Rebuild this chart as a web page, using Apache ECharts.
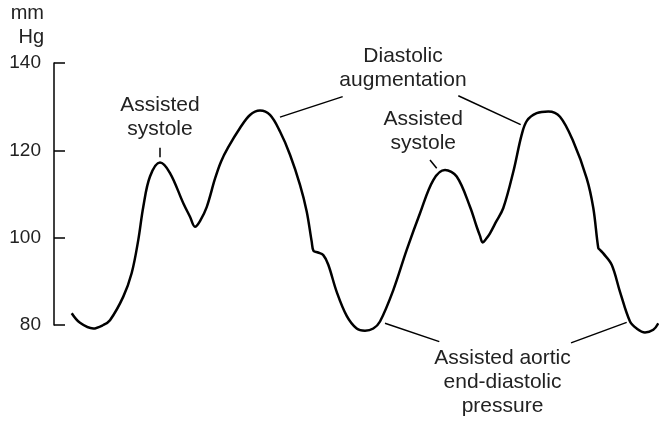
<!DOCTYPE html>
<html>
<head>
<meta charset="utf-8">
<title>Aortic pressure with balloon assist</title>
<script src="https://cdn.jsdelivr.net/npm/echarts@6/dist/echarts.min.js"></script>
<style>
html,body{margin:0;padding:0;background:#fff;}
#main{width:659px;height:421px;}
</style>
</head>
<body>
<div id="main"></div>
<script>
// time (arbitrary units) and aortic pressure (mm Hg)
var times = [17.7, 26, 39.3, 49.3, 56, 69.3, 77.7, 84.3, 89.3, 96, 106, 116, 129.3, 136, 141, 146, 152.7, 161, 167, 174,
	186, 196, 206, 216, 226, 236, 246, 252.7, 257.7, 259.5, 264, 269.3, 274.3, 282.7, 292.7, 302.7, 311, 319.3, 326, 339.3,
	352.7, 366, 379.3, 391, 402.7, 416, 422.7, 426, 428.7, 432, 436, 442, 449.3, 459.3, 467.7, 473, 482.7, 494.3, 506, 519.3,
	532.7, 539.3, 544.3, 546, 549.3, 557.7, 566, 576, 582.7, 591, 599.3, 604.3];
var pressure = [82.7, 80.5, 79.2, 80.0, 81.1, 86.5, 91.9, 99.5, 107.1, 114.0, 117.2, 114.8, 107.9, 104.8, 102.5, 103.8, 107.0, 113.5, 117.4, 120.6,
	125.1, 128.1, 129.1, 128.1, 124.3, 119.0, 112.1, 106.0, 99.1, 97.0, 96.6, 96.0, 93.8, 87.6, 82.1, 79.2, 78.7, 79.2, 80.8, 88.0,
	97.2, 105.6, 113.2, 115.5, 114.0, 107.1, 102.5, 100.4, 98.9, 99.7, 101.0, 103.6, 106.8, 115.1, 123.6, 126.8, 128.5, 128.9, 127.7, 122.0,
	113.6, 106.8, 97.6, 97.2, 96.4, 93.8, 87.6, 80.8, 79.2, 78.3, 78.9, 80.4];
var yTicks = [80, 100, 120, 140];

// annotations: text, anchor [time, mm Hg] of text centre
var noteTexts = ['Assisted\nsystole', 'Diastolic\naugmentation', 'Assisted\nsystole', 'Assisted aortic\nend-diastolic\npressure'];
var noteAt = [[106, 127.6], [349, 138.8], [369.3, 124.3], [448.5, 66.8]];
// leader lines: [t1, p1, t2, p2]
var leaders = [
	[106, 120.6, 106, 118.4],
	[226, 127.6, 288.7, 132.3],
	[404.3, 132.5, 466.7, 125.9],
	[376, 117.8, 382.7, 115.9],
	[331, 80.4, 385.3, 76.2],
	[572.7, 80.6, 517, 75.9]
];

var font = '"Liberation Sans", Arial, Helvetica, sans-serif';
var ink = '#222';
var myChart = echarts.init(document.getElementById('main'));

var points = [];
for (var i = 0; i < times.length; i++) {
	points.push([times[i], pressure[i]]);
}

var option = {
	animation: false,
	backgroundColor: '#fff',
	grid: {left: 54, right: 0, top: 63, bottom: 96},
	xAxis: {
		type: 'value',
		min: 0,
		max: 605,
		show: false
	},
	yAxis: {
		type: 'value',
		min: yTicks[0],
		max: yTicks[yTicks.length - 1],
		interval: yTicks[1] - yTicks[0],
		name: 'mm\nHg',
		nameLocation: 'end',
		nameGap: 14,
		nameTextStyle: {
			color: ink, fontSize: 20, fontFamily: font, lineHeight: 24,
			align: 'right', verticalAlign: 'bottom', padding: [0, 10, 0, 0]
		},
		axisLine: {show: true, lineStyle: {color: '#000', width: 1.5}},
		axisTick: {show: true, inside: true, length: 11, lineStyle: {color: '#000', width: 1.5}},
		axisLabel: {color: ink, fontSize: 19, fontFamily: font, margin: 13},
		splitLine: {show: false}
	},
	series: [{
		type: 'line',
		data: points,
		smooth: 0.35,
		showSymbol: false,
		clip: false,
		lineStyle: {color: '#000', width: 2.5}
	}]
};
myChart.setOption(option);

// 注释文字和引线，用坐标换算到像素
function drawNotes() {
	var els = [];
	for (var i = 0; i < noteTexts.length; i++) {
		var p = myChart.convertToPixel({gridIndex: 0}, noteAt[i]);
		els.push({
			type: 'text',
			x: p[0],
			y: p[1],
			style: {
				text: noteTexts[i],
				fill: ink,
				fontSize: 21,
				fontFamily: font,
				lineHeight: 24,
				align: 'center',
				verticalAlign: 'middle'
			}
		});
	}
	for (var j = 0; j < leaders.length; j++) {
		var a = myChart.convertToPixel({gridIndex: 0}, [leaders[j][0], leaders[j][1]]);
		var b = myChart.convertToPixel({gridIndex: 0}, [leaders[j][2], leaders[j][3]]);
		els.push({
			type: 'line',
			shape: {x1: a[0], y1: a[1], x2: b[0], y2: b[1]},
			style: {stroke: '#000', lineWidth: 1.5}
		});
	}
	myChart.setOption({graphic: els});
}
drawNotes();
</script>
</body>
</html>
